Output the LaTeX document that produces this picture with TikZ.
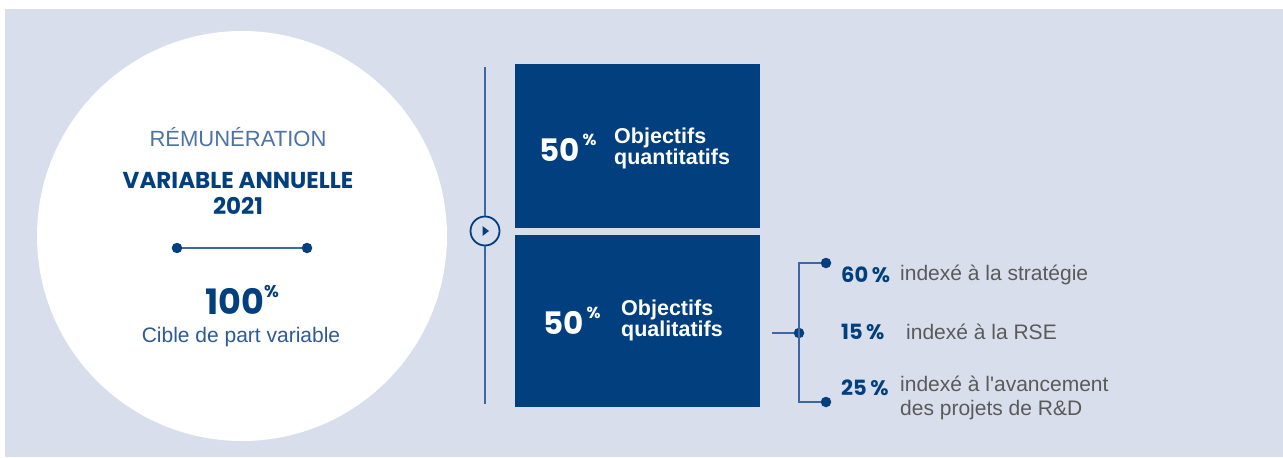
\documentclass[tikz,border=0pt]{standalone}
\usepackage{fontspec}
\usetikzlibrary{calc}
\setmainfont{Liberation Sans}
\newfontfamily\geo{Poppins}
\newfontfamily\plainsans{Liberation Sans}
\definecolor{bg}{HTML}{D9DEEC}
\definecolor{navy}{HTML}{023F7F}
\definecolor{midblue}{HTML}{2D5A98}
\definecolor{linecol}{HTML}{3D67A3}
\definecolor{greytxt}{HTML}{5A5A5A}
\tikzset{
  bluebox/.style={fill=navy, draw=none, inner sep=0},
  dotmark/.style={circle, fill=navy, inner sep=0, minimum size=10.5pt},
  conn/.style={draw=linecol, line width=1.8pt},
  bignum/.style={font=\geo\bfseries\fontsize{31}{32}\selectfont, text=white, inner sep=0},
  boxlabel/.style={font=\bfseries\fontsize{21.5}{21}\selectfont, text=white, align=left, inner sep=0, anchor=west},
  pctlab/.style={font=\geo\bfseries\fontsize{21}{22}\selectfont, text=navy, inner sep=0, anchor=west},
  itemlab/.style={font=\plainsans\fontsize{21}{24}\selectfont, text=greytxt, inner sep=0, anchor=west, align=left},
}
\begin{document}
\begin{tikzpicture}[x=1pt,y=-1pt]
\useasboundingbox (0,0) rectangle (1283,458);
\fill[white] (0,0) rectangle (1283,458);
\fill[bg] (5,9) rectangle (1283,457);
% circle
\node[circle, fill=white, minimum size=410pt, inner sep=0] (circ) at (242,236) {};
\node[text=midblue!85, font=\fontsize{22}{22}\selectfont, inner sep=0] (rem) at (238,137) {RÉMUNÉRATION};
\node[text=navy, font=\geo\bfseries\fontsize{23}{26}\selectfont, align=center, inner sep=0] (var) at (238,193) {VARIABLE ANNUELLE\\2021};
\node[dotmark] (d1) at (177,248) {};
\node[dotmark] (d2) at (307,248) {};
\draw[conn] (d1) -- (d2);
\node[text=navy, font=\geo\bfseries\fontsize{35}{35}\selectfont, inner sep=0] (hund) at (242,300) {100\raisebox{0.5em}{\fontsize{17}{17}\selectfont\%}};
\node[text=midblue, font=\fontsize{21}{21}\selectfont, inner sep=0] (cible) at (241,337) {Cible de part variable};
% vertical line with play icon
\coordinate (vtop) at (485,67);
\coordinate (vbot) at (485,404);
\node[circle, draw=navy, line width=1.8pt, fill=bg, minimum size=29pt, inner sep=0] (play) at (485,231) {};
\draw[conn] (vtop) -- (play.north);
\draw[conn] (play.south) -- (vbot);
\fill[navy] ($(play.center)+(-2.5,-5)$) -- ($(play.center)+(-2.5,5)$) -- ($(play.center)+(4,0)$) -- cycle;
% boxes
\node[bluebox, minimum width=245pt, minimum height=164pt, anchor=north west] (box1) at (515,64) {};
\node[bluebox, minimum width=245pt, minimum height=172pt, anchor=north west] (box2) at (515,235) {};
\node[bignum, anchor=west] (n1) at (539,148) {50\hspace{3pt}\raisebox{0.5em}{\fontsize{16}{16}\selectfont\%}};
\node[boxlabel] (l1) at (614,148) {Objectifs\\quantitatifs};
\node[bignum, anchor=west] (n2) at (543,321) {50\hspace{3pt}\raisebox{0.5em}{\fontsize{16}{16}\selectfont\%}};
\node[boxlabel] (l2) at (621,320) {Objectifs\\qualitatifs};
% right connector
\coordinate (hstart) at (772,333);
\node[dotmark] (junc) at (799,333) {};
\coordinate (ctop) at (799,263);
\coordinate (cbot) at (799,402);
\node[dotmark] (e1) at (826,263) {};
\node[dotmark] (e3) at (826,402) {};
\draw[conn] (hstart) -- (junc);
\draw[conn] (e1) -- (ctop) -- (cbot) -- (e3);
% items
\node[pctlab] (p1) at (841,275) {60\,\%};
\node[itemlab] (t1) at (900,275) {indexé à la stratégie};
\node[pctlab] (p2) at (841,332) {15\,\%};
\node[itemlab] (t2) at (906,332) {indexé à la RSE};
\node[pctlab] (p3) at (841,388) {25\,\%};
\node[itemlab, anchor=north west] (t3) at (900,376) {indexé à l'avancement\\des projets de R\&D};
\end{tikzpicture}
\end{document}
